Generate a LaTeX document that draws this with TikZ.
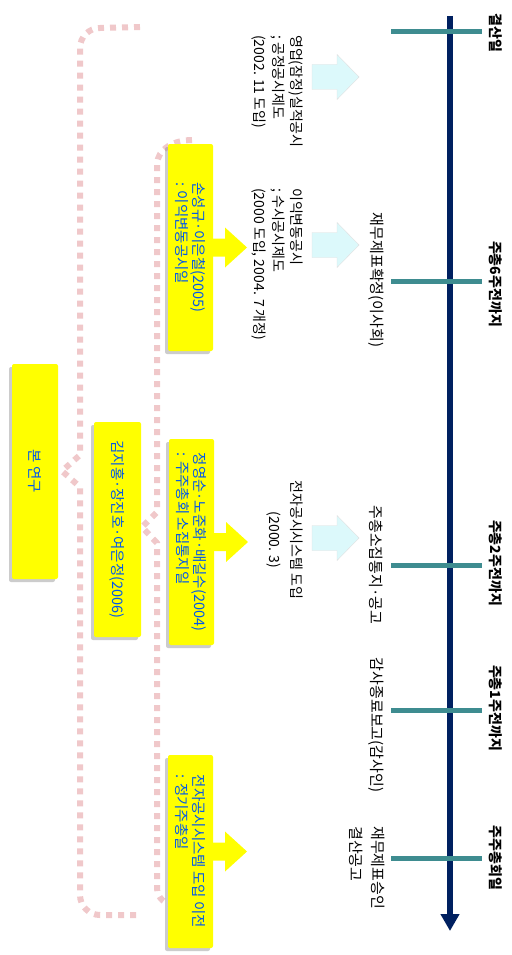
\documentclass[tikz,border=0pt]{standalone}
\usepackage{fontspec}
\setmainfont{Noto Sans CJK KR}
\usetikzlibrary{arrows.meta,shadows}
\definecolor{navyline}{RGB}{0,32,96}
\definecolor{tickteal}{RGB}{62,140,144}
\definecolor{boxblue}{RGB}{0,88,235}
\definecolor{bracepink}{RGB}{240,200,202}
\definecolor{paleblue}{RGB}{220,249,251}
\definecolor{boxyellow}{RGB}{255,255,0}

\begin{document}
\begin{tikzpicture}[x=1pt, y=-1pt,
    datelabel/.style={rotate=-90, inner sep=0pt, font=\fontsize{14}{17}\selectfont\bfseries},
    eventlabel/.style={rotate=-90, inner sep=0pt, align=left, font=\fontsize{15}{18.5}\selectfont},
    notelabel/.style={rotate=-90, inner sep=0pt, align=left, font=\fontsize{14}{18.5}\selectfont},
    studybox/.style={rotate=-90, fill=boxyellow, text=boxblue, rounded corners=2pt, align=left,
        inner sep=0pt, minimum height=45pt, font=\fontsize{14.5}{17}\selectfont,
        drop shadow={shadow xshift=-3pt, shadow yshift=-3pt, opacity=0.4}},
    tickline/.style={draw=tickteal, line width=5pt},
    pinkbrace/.style={draw=bracepink, line width=6pt, dash pattern=on 6pt off 6pt},
    palearrow/.style={fill=paleblue, draw=black!12, drop shadow={shadow xshift=-2pt, shadow yshift=-2pt, opacity=0.25}},
    yellowarrow/.style={fill=boxyellow, drop shadow={shadow xshift=-3pt, shadow yshift=-3pt, opacity=0.4}},
    blockarrow/.pic={\path[pic actions] (0,-12.5) -- (25,-12.5) -- (25,-22.5) -- (47,0) -- (25,22.5) -- (25,12.5) -- (0,12.5) -- cycle;},
    smallarrow/.pic={\path[pic actions] (-3,-9) -- (12,-9) -- (12,-20) -- (34,0) -- (12,20) -- (12,9) -- (-3,9) -- cycle;}
]
\path[use as bounding box, fill=white] (0,0) rectangle (511,955);

% Braces behind the boxes
\draw[pinkbrace] (140,27) -- (100,28) to[out=180,in=90] (80,48) -- (80,455) -- (62,471) -- (80,487)
    -- (80,895) to[out=-90,in=180] (100,915) -- (140,915);
\draw[pinkbrace] (192,140) to[out=180,in=90] (157,165) -- (157,512) -- (142,527) -- (157,543)
    -- (157,888) to[out=-90,in=180] (175,905);

% Time line
\coordinate (tstart) at (450,16);
\coordinate (tend) at (450,931);
\draw[navyline, line width=5.5pt, -{Triangle[width=18pt,length=17pt]}] (tstart) -- (tend);

% Ticks
\coordinate (t1l) at (391,32);  \coordinate (t1r) at (482,32);
\coordinate (t2l) at (391,281); \coordinate (t2r) at (482,281);
\coordinate (t3l) at (391,565); \coordinate (t3r) at (482,565);
\coordinate (t4l) at (391,710); \coordinate (t4r) at (482,710);
\coordinate (t5l) at (391,858); \coordinate (t5r) at (482,858);
\draw[tickline] (t1l) -- (t1r);
\draw[tickline] (t2l) -- (t2r);
\draw[tickline] (t3l) -- (t3r);
\draw[tickline] (t4l) -- (t4r);
\draw[tickline] (t5l) -- (t5r);

% Labels for the ticks
\node[datelabel] (d1) at (496,33) {결산일};
\node[datelabel] (d2) at (496,284) {주총6주전까지};
\node[datelabel] (d3) at (496,563) {주총2주전까지};
\node[datelabel] (d4) at (496,708) {주총1주전까지};
\node[datelabel] (d5) at (496,858) {주주총회일};

% Events on the left of the line
\node[eventlabel] (e2) at (376,280) {재무제표확정(이사회)};
\node[eventlabel] (e3) at (376,565) {주총소집통지·공고};
\node[eventlabel] (e4) at (376,725) {감사종료보고(감사인)};
\node[eventlabel, anchor=west] (e5) at (367,826) {재무제표승인\\[3pt]결산공고};

% Disclosure rules
\node[notelabel, anchor=west] (n1) at (277.5,35) {영업(잠정)실적공시\\; 공정공시제도\\(2002. 11 도입)};
\node[notelabel, anchor=west] (n2) at (277.5,188) {이익변동공시\\; 수시공시제도\\(2000 도입, 2004. 7 개정)};
\node[notelabel, align=center] (n3) at (285,540) {전자공시시스템 도입\\[3pt](2000. 3)};

% Pale arrows
\pic[palearrow] at (312,77) {blockarrow};
\pic[palearrow] at (312,245) {blockarrow};
\pic[palearrow] at (312,538) {blockarrow};

% Studies
\node[studybox, minimum width=215pt, minimum height=46pt] (ours) at (35,471.5) {본 연구};
\node[studybox, minimum width=215pt, minimum height=47pt] (kim) at (117.5,529.5) {김지홍·장진호·여은정(2006)};
\pic[yellowarrow] at (213,247.5) {smallarrow};
\pic[yellowarrow] at (214,542) {smallarrow};
\pic[yellowarrow] at (213,851.5) {smallarrow};
\node[studybox, minimum width=207pt] (son) at (190.5,247.5) {손성규·이은철(2005)\\: 이익변동공시일};
\node[studybox, minimum width=206pt] (jeong) at (191.5,542) {정영순·노준화·배길수(2004)\\: 주주총회 소집통지일};
\node[studybox, minimum width=193pt] (before) at (190.5,851.5) {전자공시시스템 도입 이전\\: 정기주총일};
\end{tikzpicture}
\end{document}
